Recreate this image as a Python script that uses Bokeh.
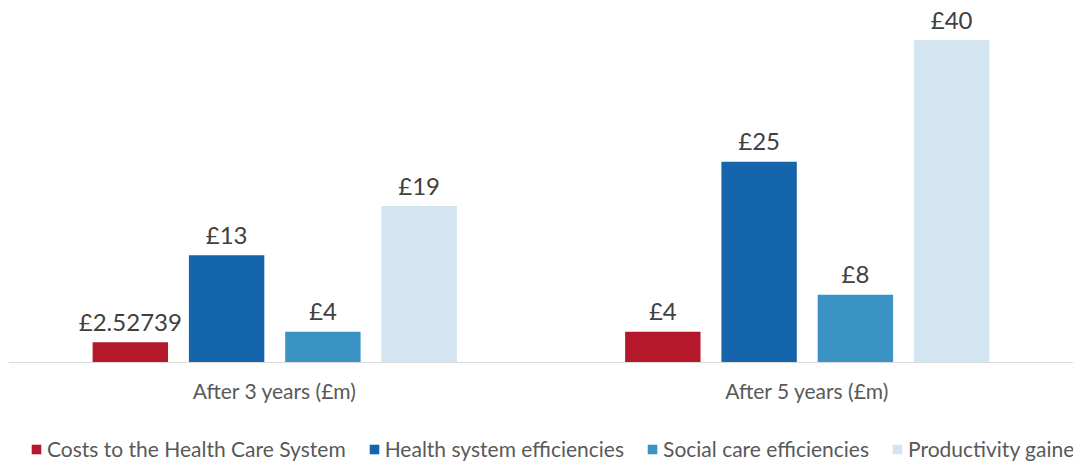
from bokeh.plotting import figure
from bokeh.models import ColumnDataSource, FactorRange, Range1d, Legend, LegendItem, Span
from bokeh.transform import dodge
from bokeh.core.properties import value
from bokeh.embed import file_html
from bokeh.resources import INLINE

groups = ["After 3 years (£m)", "After 5 years (£m)"]
series = ["Costs to the Health Care System", "Health system efficiencies",
          "Social care efficiencies", "Productivity gained"]
costs = [2.52739, 3.8]
health = [13.3, 24.9]
social = [3.8, 8.4]
productivity = [19.4, 40.0]
labels_costs = ["£2.52739", "£4"]
labels_health = ["£13", "£25"]
labels_social = ["£4", "£8"]
labels_productivity = ["£19", "£40"]

colors = ["#B5172B", "#1565AC", "#3A93C4", "#D2E5F0"]
offsets = [-0.2712, -0.0904, 0.0904, 0.2712]
all_vals = [costs, health, social, productivity]
all_labels = [labels_costs, labels_health, labels_social, labels_productivity]

p = figure(x_range=FactorRange(*groups, range_padding=0), y_range=Range1d(-12.403, 44.9),
           frame_width=1065, frame_height=462, output_backend="svg", toolbar_location=None,
           min_border_left=8, min_border_right=0, min_border_top=0, min_border_bottom=0)

items = []
for name, vals, labs, col, off in zip(series, all_vals, all_labels, colors, offsets):
    src = ColumnDataSource(dict(g=groups, v=vals, lab=labs))
    r = p.vbar(x=dodge("g", off, range=p.x_range), top="v", bottom=0, width=0.1416,
               source=src, fill_color=col, line_color=None)
    p.text(x=dodge("g", off, range=p.x_range), y="v", text="lab", source=src,
           text_align="center", text_baseline="alphabetic", y_offset=-21,
           text_font=value("Lato"), text_font_size="24px", text_color="#404040")
    items.append(LegendItem(label=name, renderers=[r]))

# baseline (category axis line)
p.add_layout(Span(location=0, dimension="width", line_color="#D9D9D9", line_width=1))

# category labels
gsrc = ColumnDataSource(dict(g=groups, y0=[0] * len(groups)))
p.text(x="g", y="y0", text="g", source=gsrc, text_align="center", text_baseline="middle",
       y_offset=28, text_font=value("Lato"), text_font_size="21px", text_color="#595959")

p.outline_line_color = None
p.xgrid.grid_line_color = None
p.ygrid.grid_line_color = None
p.xaxis.visible = False
p.yaxis.visible = False

legend = Legend(items=items, orientation="horizontal", location=(22, 1),
                glyph_width=12, glyph_height=12, label_standoff=5, spacing=22,
                padding=0, margin=0, border_line_color=None, background_fill_alpha=0,
                label_text_font="Lato", label_text_font_size="21px",
                label_text_color="#595959")
p.add_layout(legend)

open("out.html", "w").write(file_html(p, INLINE))
